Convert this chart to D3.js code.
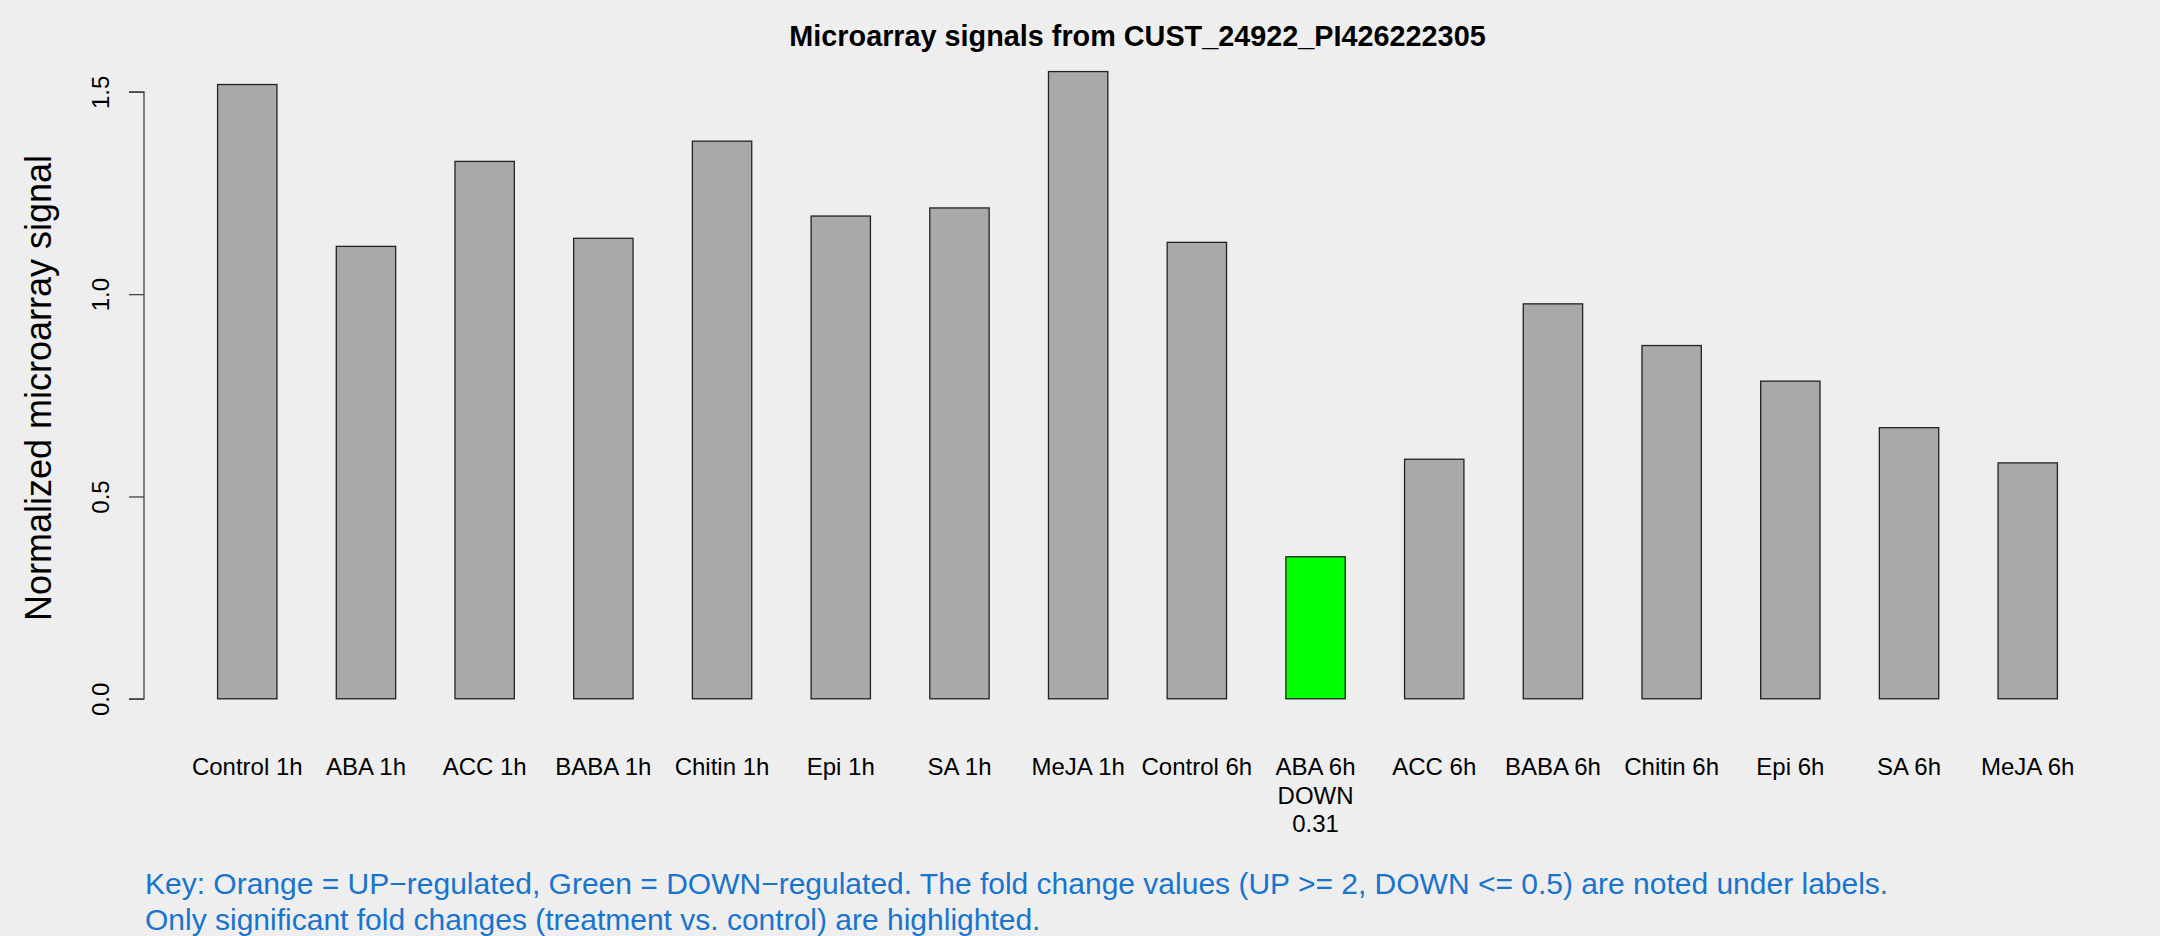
<!DOCTYPE html>
<html>
<head>
<meta charset="utf-8">
<script src="https://cdn.jsdelivr.net/npm/d3@7"></script>
<style>
  html, body { margin: 0; padding: 0; background: #EEEEEE; }
  svg { display: block; }
  text { font-family: "Liberation Sans", Arial, Helvetica, sans-serif; }
</style>
</head>
<body>
<svg id="chart" width="2160" height="936"></svg>
<script>
const categories = ["Control 1h","ABA 1h","ACC 1h","BABA 1h","Chitin 1h","Epi 1h","SA 1h","MeJA 1h",
                    "Control 6h","ABA 6h","ACC 6h","BABA 6h","Chitin 6h","Epi 6h","SA 6h","MeJA 6h"];
const values = [1.518, 1.118, 1.328, 1.138, 1.378, 1.193, 1.213, 1.550,
                1.128, 0.351, 0.592, 0.976, 0.873, 0.785, 0.670, 0.583];
const regulation = ["","","","","","","","","","DOWN","","","","","",""];
const foldChange = ["","","","","","","","","","0.31","","","","","",""];
const yTicks = [0, 0.5, 1.0, 1.5];
const titleText = "Microarray signals from CUST_24922_PI426222305";
const yLabel = "Normalized microarray signal";
const keyLines = [
  "Key: Orange = UP\u2212regulated, Green = DOWN\u2212regulated. The fold change values (UP >= 2, DOWN <= 0.5) are noted under labels.",
  "Only significant fold changes (treatment vs. control) are highlighted."
];

const svg = d3.select("#chart");
svg.append("rect").attr("width", 2160).attr("height", 936).attr("fill", "#EEEEEE");

const x = d3.scaleBand().domain(categories).range([144, 2131]).paddingInner(0.5).paddingOuter(0.62);
const y = d3.scaleLinear().domain([0, 1.5]).range([698.8, 91.8]);

const colorFor = r => r === "DOWN" ? "#00FF00" : (r === "UP" ? "#FFA500" : "#A9A9A9");

// bars
svg.append("g").selectAll("rect").data(categories).join("rect")
  .attr("x", d => x(d))
  .attr("y", (d, i) => y(values[i]))
  .attr("width", x.bandwidth())
  .attr("height", (d, i) => y(0) - y(values[i]))
  .attr("fill", (d, i) => colorFor(regulation[i]))
  .attr("stroke", "#222")
  .attr("stroke-width", 1.3);

// y axis
const yAxis = d3.axisLeft(y).tickValues(yTicks).tickFormat(d3.format(".1f")).tickSize(15).tickPadding(0);
const gy = svg.append("g").attr("transform", "translate(144,0)").call(yAxis);
gy.select(".domain").attr("stroke", "#444").attr("stroke-width", 1.3)
  .attr("d", `M-15,${y(0)}H0V${y(1.5)}H-15`);
gy.selectAll(".tick line").attr("stroke", "#444").attr("stroke-width", 1.3);
gy.selectAll(".tick text")
  .attr("font-size", 24).attr("fill", "#000")
  .attr("text-anchor", "middle")
  .attr("x", 0).attr("dy", 0)
  .attr("transform", "translate(-35,0) rotate(-90)");

// x labels
const gx = svg.append("g");
categories.forEach((c, i) => {
  const cx = x(c) + x.bandwidth() / 2;
  const lines = [c];
  if (regulation[i]) lines.push(regulation[i]);
  if (foldChange[i]) lines.push(foldChange[i]);
  lines.forEach((t, k) => {
    gx.append("text").attr("x", cx).attr("y", 775 + k * 28.5)
      .attr("text-anchor", "middle").attr("font-size", 24).attr("fill", "#000").text(t);
  });
});

// title
svg.append("text").attr("x", 1137.5).attr("y", 46).attr("text-anchor", "middle")
  .attr("font-size", 28.8).attr("font-weight", "bold").attr("fill", "#000").text(titleText);

// y label
svg.append("text").attr("transform", "translate(51,388) rotate(-90)")
  .attr("text-anchor", "middle").attr("font-size", 36).attr("fill", "#000").text(yLabel);

// key
keyLines.forEach((t, k) => {
  svg.append("text").attr("x", 145).attr("y", 894 + k * 36)
    .attr("font-size", 30).attr("fill", "#1874CD").text(t);
});
</script>
</body>
</html>
